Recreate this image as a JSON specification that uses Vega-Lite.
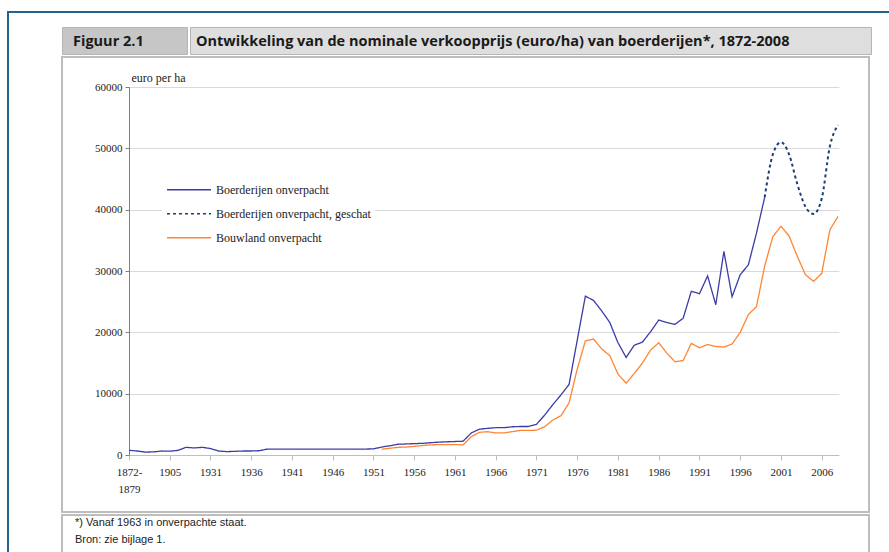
{
  "$schema": "https://vega.github.io/schema/vega-lite/v6.json",
  "padding": {"left": 7, "top": 11, "right": 0, "bottom": 0},
  "background": "white",
  "config": {"view": {"stroke": null}, "font": "Liberation Serif"},
  "datasets": {
    "prices": [
      {"p":"1872-1879","s":"Boerderijen onverpacht","v":770},
      {"p":"1880-1889","s":"Boerderijen onverpacht","v":650},
      {"p":"1890-1899","s":"Boerderijen onverpacht","v":480},
      {"p":"1900-1902","s":"Boerderijen onverpacht","v":500},
      {"p":"1903-1904","s":"Boerderijen onverpacht","v":650},
      {"p":"1905","s":"Boerderijen onverpacht","v":620},
      {"p":"1906-1910","s":"Boerderijen onverpacht","v":750},
      {"p":"1911-1920","s":"Boerderijen onverpacht","v":1250},
      {"p":"1921-1925","s":"Boerderijen onverpacht","v":1150},
      {"p":"1926-1930","s":"Boerderijen onverpacht","v":1250},
      {"p":"1931","s":"Boerderijen onverpacht","v":1050},
      {"p":"1932","s":"Boerderijen onverpacht","v":650},
      {"p":"1933","s":"Boerderijen onverpacht","v":550},
      {"p":"1934","s":"Boerderijen onverpacht","v":600},
      {"p":"1935","s":"Boerderijen onverpacht","v":650},
      {"p":"1936","s":"Boerderijen onverpacht","v":650},
      {"p":"1937","s":"Boerderijen onverpacht","v":700},
      {"p":"1938","s":"Boerderijen onverpacht","v":970},
      {"p":"1939","s":"Boerderijen onverpacht","v":970},
      {"p":"1940","s":"Boerderijen onverpacht","v":970},
      {"p":"1941","s":"Boerderijen onverpacht","v":970},
      {"p":"1942","s":"Boerderijen onverpacht","v":970},
      {"p":"1943","s":"Boerderijen onverpacht","v":970},
      {"p":"1944","s":"Boerderijen onverpacht","v":970},
      {"p":"1945","s":"Boerderijen onverpacht","v":970},
      {"p":"1946","s":"Boerderijen onverpacht","v":970},
      {"p":"1947","s":"Boerderijen onverpacht","v":970},
      {"p":"1948","s":"Boerderijen onverpacht","v":970},
      {"p":"1949","s":"Boerderijen onverpacht","v":970},
      {"p":"1950","s":"Boerderijen onverpacht","v":970},
      {"p":"1951","s":"Boerderijen onverpacht","v":990},
      {"p":"1952","s":"Boerderijen onverpacht","v":1300},
      {"p":"1953","s":"Boerderijen onverpacht","v":1500},
      {"p":"1954","s":"Boerderijen onverpacht","v":1750},
      {"p":"1955","s":"Boerderijen onverpacht","v":1800},
      {"p":"1956","s":"Boerderijen onverpacht","v":1850},
      {"p":"1957","s":"Boerderijen onverpacht","v":1900},
      {"p":"1958","s":"Boerderijen onverpacht","v":2000},
      {"p":"1959","s":"Boerderijen onverpacht","v":2100},
      {"p":"1960","s":"Boerderijen onverpacht","v":2150},
      {"p":"1961","s":"Boerderijen onverpacht","v":2200},
      {"p":"1962","s":"Boerderijen onverpacht","v":2250},
      {"p":"1963","s":"Boerderijen onverpacht","v":3600},
      {"p":"1964","s":"Boerderijen onverpacht","v":4200},
      {"p":"1965","s":"Boerderijen onverpacht","v":4350},
      {"p":"1966","s":"Boerderijen onverpacht","v":4450},
      {"p":"1967","s":"Boerderijen onverpacht","v":4450},
      {"p":"1968","s":"Boerderijen onverpacht","v":4600},
      {"p":"1969","s":"Boerderijen onverpacht","v":4650},
      {"p":"1970","s":"Boerderijen onverpacht","v":4650},
      {"p":"1971","s":"Boerderijen onverpacht","v":5000},
      {"p":"1972","s":"Boerderijen onverpacht","v":6500},
      {"p":"1973","s":"Boerderijen onverpacht","v":8200},
      {"p":"1974","s":"Boerderijen onverpacht","v":9800},
      {"p":"1975","s":"Boerderijen onverpacht","v":11500},
      {"p":"1976","s":"Boerderijen onverpacht","v":18700},
      {"p":"1977","s":"Boerderijen onverpacht","v":25900},
      {"p":"1978","s":"Boerderijen onverpacht","v":25200},
      {"p":"1979","s":"Boerderijen onverpacht","v":23500},
      {"p":"1980","s":"Boerderijen onverpacht","v":21600},
      {"p":"1981","s":"Boerderijen onverpacht","v":18300},
      {"p":"1982","s":"Boerderijen onverpacht","v":15900},
      {"p":"1983","s":"Boerderijen onverpacht","v":17900},
      {"p":"1984","s":"Boerderijen onverpacht","v":18400},
      {"p":"1985","s":"Boerderijen onverpacht","v":20100},
      {"p":"1986","s":"Boerderijen onverpacht","v":22000},
      {"p":"1987","s":"Boerderijen onverpacht","v":21600},
      {"p":"1988","s":"Boerderijen onverpacht","v":21300},
      {"p":"1989","s":"Boerderijen onverpacht","v":22300},
      {"p":"1990","s":"Boerderijen onverpacht","v":26700},
      {"p":"1991","s":"Boerderijen onverpacht","v":26300},
      {"p":"1992","s":"Boerderijen onverpacht","v":29200},
      {"p":"1993","s":"Boerderijen onverpacht","v":24500},
      {"p":"1994","s":"Boerderijen onverpacht","v":33200},
      {"p":"1995","s":"Boerderijen onverpacht","v":25800},
      {"p":"1996","s":"Boerderijen onverpacht","v":29400},
      {"p":"1997","s":"Boerderijen onverpacht","v":31000},
      {"p":"1998","s":"Boerderijen onverpacht","v":36200},
      {"p":"1999","s":"Boerderijen onverpacht","v":42000},
      {"p":"1999","s":"Boerderijen onverpacht, geschat","v":42000},
      {"p":"2000","s":"Boerderijen onverpacht, geschat","v":49000},
      {"p":"2001","s":"Boerderijen onverpacht, geschat","v":51000},
      {"p":"2002","s":"Boerderijen onverpacht, geschat","v":49000},
      {"p":"2003","s":"Boerderijen onverpacht, geschat","v":44200},
      {"p":"2004","s":"Boerderijen onverpacht, geschat","v":40500},
      {"p":"2005","s":"Boerderijen onverpacht, geschat","v":39300},
      {"p":"2006","s":"Boerderijen onverpacht, geschat","v":41800},
      {"p":"2007","s":"Boerderijen onverpacht, geschat","v":50300},
      {"p":"2008","s":"Boerderijen onverpacht, geschat","v":53800},
      {"p":"1952","s":"Bouwland onverpacht","v":950},
      {"p":"1953","s":"Bouwland onverpacht","v":1100},
      {"p":"1954","s":"Bouwland onverpacht","v":1250},
      {"p":"1955","s":"Bouwland onverpacht","v":1300},
      {"p":"1956","s":"Bouwland onverpacht","v":1400},
      {"p":"1957","s":"Bouwland onverpacht","v":1550},
      {"p":"1958","s":"Bouwland onverpacht","v":1650},
      {"p":"1959","s":"Bouwland onverpacht","v":1700},
      {"p":"1960","s":"Bouwland onverpacht","v":1700},
      {"p":"1961","s":"Bouwland onverpacht","v":1700},
      {"p":"1962","s":"Bouwland onverpacht","v":1650},
      {"p":"1963","s":"Bouwland onverpacht","v":3000},
      {"p":"1964","s":"Bouwland onverpacht","v":3700},
      {"p":"1965","s":"Bouwland onverpacht","v":3800},
      {"p":"1966","s":"Bouwland onverpacht","v":3600},
      {"p":"1967","s":"Bouwland onverpacht","v":3600},
      {"p":"1968","s":"Bouwland onverpacht","v":3800},
      {"p":"1969","s":"Bouwland onverpacht","v":4000},
      {"p":"1970","s":"Bouwland onverpacht","v":4000},
      {"p":"1971","s":"Bouwland onverpacht","v":4050},
      {"p":"1972","s":"Bouwland onverpacht","v":4600},
      {"p":"1973","s":"Bouwland onverpacht","v":5700},
      {"p":"1974","s":"Bouwland onverpacht","v":6400},
      {"p":"1975","s":"Bouwland onverpacht","v":8500},
      {"p":"1976","s":"Bouwland onverpacht","v":14000},
      {"p":"1977","s":"Bouwland onverpacht","v":18600},
      {"p":"1978","s":"Bouwland onverpacht","v":18900},
      {"p":"1979","s":"Bouwland onverpacht","v":17300},
      {"p":"1980","s":"Bouwland onverpacht","v":16200},
      {"p":"1981","s":"Bouwland onverpacht","v":13200},
      {"p":"1982","s":"Bouwland onverpacht","v":11700},
      {"p":"1983","s":"Bouwland onverpacht","v":13300},
      {"p":"1984","s":"Bouwland onverpacht","v":15000},
      {"p":"1985","s":"Bouwland onverpacht","v":17100},
      {"p":"1986","s":"Bouwland onverpacht","v":18300},
      {"p":"1987","s":"Bouwland onverpacht","v":16600},
      {"p":"1988","s":"Bouwland onverpacht","v":15200},
      {"p":"1989","s":"Bouwland onverpacht","v":15400},
      {"p":"1990","s":"Bouwland onverpacht","v":18200},
      {"p":"1991","s":"Bouwland onverpacht","v":17500},
      {"p":"1992","s":"Bouwland onverpacht","v":18000},
      {"p":"1993","s":"Bouwland onverpacht","v":17700},
      {"p":"1994","s":"Bouwland onverpacht","v":17600},
      {"p":"1995","s":"Bouwland onverpacht","v":18100},
      {"p":"1996","s":"Bouwland onverpacht","v":20000},
      {"p":"1997","s":"Bouwland onverpacht","v":22900},
      {"p":"1998","s":"Bouwland onverpacht","v":24200},
      {"p":"1999","s":"Bouwland onverpacht","v":30800},
      {"p":"2000","s":"Bouwland onverpacht","v":35600},
      {"p":"2001","s":"Bouwland onverpacht","v":37300},
      {"p":"2002","s":"Bouwland onverpacht","v":35700},
      {"p":"2003","s":"Bouwland onverpacht","v":32400},
      {"p":"2004","s":"Bouwland onverpacht","v":29400},
      {"p":"2005","s":"Bouwland onverpacht","v":28300},
      {"p":"2006","s":"Bouwland onverpacht","v":29600},
      {"p":"2007","s":"Bouwland onverpacht","v":36700},
      {"p":"2008","s":"Bouwland onverpacht","v":38900}
    ]
  },
  "spacing": 0,
  "vconcat": [
    {
      "width": 882, "height": 2,
      "view": {"fill": "#23628f", "stroke": null},
      "data": {"values": []},
      "mark": "rect"
    },
    {
      "spacing": 52,
      "hconcat": [
        {
          "width": 2, "height": 539,
          "view": {"fill": "#23628f", "stroke": null},
          "data": {"values": []},
          "mark": "rect"
        },
        {
          "spacing": 1,
          "vconcat": [
            {
              "width": 807, "height": 12,
              "data": {"values": []},
              "mark": "rect"
            },
            {
              "spacing": 1,
              "hconcat": [
                {
                  "width": 125, "height": 27,
                  "view": {"fill": "#c6c6c6", "stroke": "#b5b5b5"},
                  "data": {"values": []},
                  "mark": "rect",
                  "title": {"text": "Figuur 2.1", "anchor": "start", "frame": "group", "orient": "top", "offset": -33.5, "baseline": "alphabetic", "dx": 11, "font": "Open Sans", "fontSize": 14.5, "fontWeight": "bold", "color": "#1a1a1a"}
                },
                {
                  "width": 681, "height": 27,
                  "view": {"fill": "#dedede", "stroke": "#b5b5b5"},
                  "data": {"values": []},
                  "mark": "rect",
                  "title": {"text": "Ontwikkeling van de nominale verkoopprijs (euro/ha) van boerderijen*, 1872-2008", "anchor": "start", "frame": "group", "orient": "top", "offset": -33.5, "baseline": "alphabetic", "dx": 6, "font": "Open Sans", "fontSize": 14.5, "fontWeight": "bold", "color": "#1a1a1a"}
                }
              ]
            },
            {
              "width": 807, "height": 455,
              "view": {"fill": "white", "stroke": "#bdbdbd", "strokeWidth": 2},
              "data": {"name": "prices"},
              "encoding": {
                "x": {
                  "field": "p", "type": "ordinal", "sort": "ascending",
                  "scale": {"type": "point", "range": [66.18, 776.82], "padding": 0.1},
                  "axis": {
                    "values": ["1872-1879","1905","1931","1936","1941","1946","1951","1956","1961","1966","1971","1976","1981","1986","1991","1996","2001","2006"],
                    "labelExpr": "datum.value == '1872-1879' ? ['1872-', '1879'] : datum.value",
                    "labelOverlap": false, "labelBound": false, "labelFlush": false,
                    "labelAngle": 0, "offset": -57, "title": null, "grid": false,
                    "domainColor": "#bfbfbf", "tickColor": "#bfbfbf", "tickSize": 5,
                    "labelFont": "Liberation Serif", "labelFontSize": 11, "labelColor": "#222222",
                    "labelPadding": 6, "labelLineHeight": 17
                  }
                },
                "y": {
                  "field": "v", "type": "quantitative",
                  "scale": {"domain": [0, 60000], "range": [398, 30], "nice": false},
                  "axis": {
                    "values": [0, 10000, 20000, 30000, 40000, 50000, 60000],
                    "format": "d", "offset": -67,
                    "grid": true, "gridColor": "#d9d9d9",
                    "domainColor": "#7f7f7f", "tickColor": "#7f7f7f", "tickSize": 4,
                    "labelFont": "Liberation Serif", "labelFontSize": 11, "labelColor": "#222222", "labelPadding": 3,
                    "title": "euro per ha", "titleAngle": 0, "titleAlign": "left", "titleBaseline": "alphabetic",
                    "titleX": 2, "titleY": 24, "titleFont": "Liberation Serif", "titleFontSize": 12,
                    "titleFontWeight": "normal", "titleColor": "#222222"
                  }
                },
                "color": {
                  "field": "s", "type": "nominal",
                  "scale": {"domain": ["Boerderijen onverpacht", "Boerderijen onverpacht, geschat", "Bouwland onverpacht"], "range": ["#3c3ca6", "#1c3f73", "#ff8533"]},
                  "legend": {
                    "orient": "none", "legendX": 155, "legendY": 164, "title": null,
                    "fillColor": "white", "padding": 4, "clipHeight": 21.5,
                    "symbolType": "stroke", "symbolSize": 1936, "symbolStrokeWidth": 1.3,
                    "labelFont": "Liberation Serif", "labelFontSize": 12, "labelColor": "#222222", "labelOffset": 4
                  }
                },
                "strokeDash": {
                  "field": "s", "type": "nominal",
                  "scale": {"domain": ["Boerderijen onverpacht", "Boerderijen onverpacht, geschat", "Bouwland onverpacht"], "range": [[1, 0], [3, 3], [1, 0]]},
                  "legend": {
                    "orient": "none", "legendX": 155, "legendY": 164, "title": null,
                    "fillColor": "white", "padding": 4, "clipHeight": 21.5,
                    "symbolType": "stroke", "symbolSize": 1936, "symbolStrokeWidth": 1.3,
                    "labelFont": "Liberation Serif", "labelFontSize": 12, "labelColor": "#222222", "labelOffset": 4
                  }
                }
              },
              "layer": [
                {
                  "transform": [{"filter": "datum.s != 'Boerderijen onverpacht, geschat'"}],
                  "mark": {"type": "line", "strokeWidth": 1.3}
                },
                {
                  "transform": [{"filter": "datum.s == 'Boerderijen onverpacht, geschat'"}],
                  "mark": {"type": "line", "strokeWidth": 2, "interpolate": "monotone", "strokeDash": [2, 3]}
                },
                {
                  "data": {"values": [{}]},
                  "mark": {"type": "rule", "strokeWidth": 1},
                  "encoding": {
                    "x": {"datum": "2008", "type": "ordinal"},
                    "y": {"datum": 0, "type": "quantitative"},
                    "y2": {"datum": 60000},
                    "color": {"value": "#c8c8c8"},
                    "strokeDash": {"value": [1, 0]}
                  }
                }
              ]
            },
            {
              "width": 807, "height": 38,
              "view": {"fill": "white", "stroke": "#bdbdbd", "strokeWidth": 2},
              "data": {"values": []},
              "mark": "rect",
              "title": {"text": ["*) Vanaf 1963 in onverpachte staat.", "Bron: zie bijlage 1."], "anchor": "start", "frame": "group", "orient": "top", "offset": -38.5, "baseline": "alphabetic", "dx": 13, "font": "Liberation Sans", "fontSize": 11, "fontWeight": "normal", "lineHeight": 17, "color": "#222222"}
            }
          ]
        }
      ]
    }
  ]
}
